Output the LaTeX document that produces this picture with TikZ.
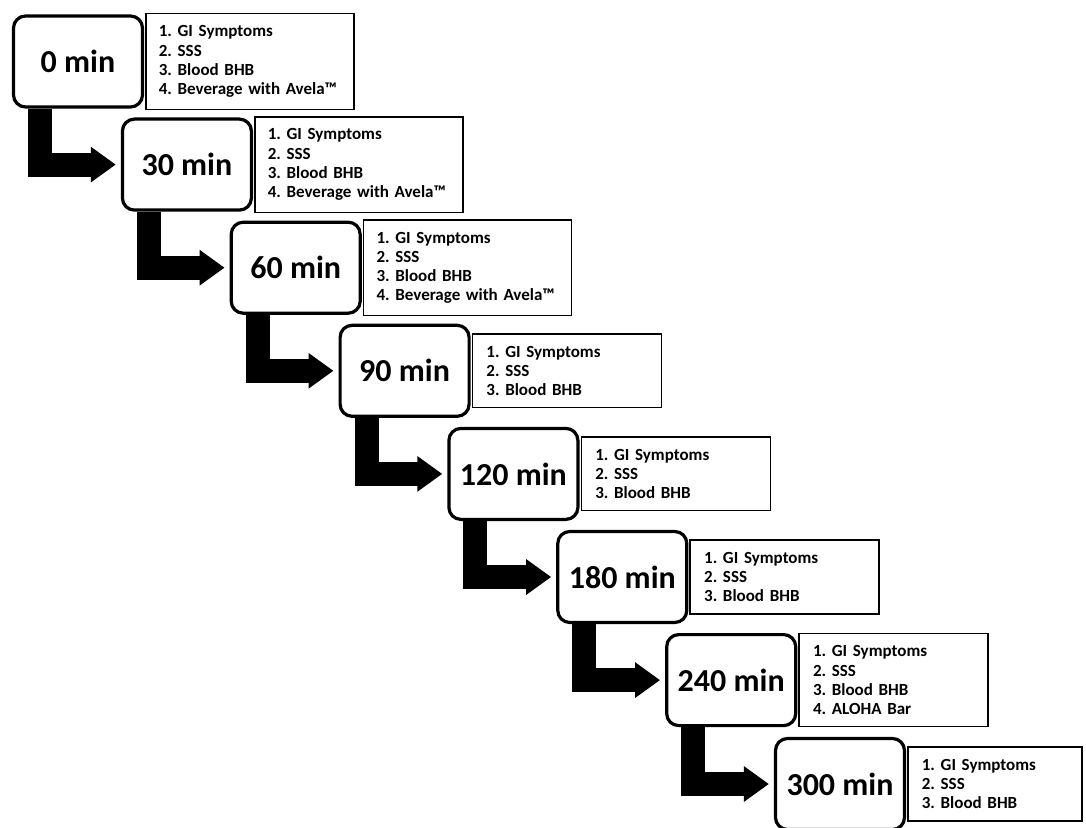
\documentclass[tikz,border=0pt]{standalone}
\usepackage{fontspec}
\setmainfont{Carlito}
\usepackage{tikz}
\usetikzlibrary{positioning,arrows.meta}

\tikzset{
  timebox/.style={draw,line width=1.6pt,rounded corners=6pt,minimum width=64.5pt,
    minimum height=45.5pt,font=\fontsize{16}{19}\selectfont\bfseries,inner sep=0pt},
  infobox/.style={draw,line width=0.75pt,align=left,inner xsep=7pt,inner ysep=6pt,
    font=\fontsize{8.5}{9.6}\selectfont\bfseries\frenchspacing},
  wide/.style={text width=91pt,inner xsep=6.5pt},
  narrow/.style={text width=80.5pt},
  flow/.style={line width=12pt,-{Triangle[length=12.5pt,width=17pt]},shorten >=2.5pt}
}
\newcommand{\avela}{\mbox{4. Beverage with Avela™}}

\begin{document}
\begin{tikzpicture}[x=0.5pt,y=-0.5pt]
\useasboundingbox (0,0) rectangle (1086,828);
\node[timebox] (t0) at (78,61.5) {0 min};
\node[timebox] (t30) at (186.9,164.6) {30 min};
\node[timebox] (t60) at (295.7,267.7) {60 min};
\node[timebox] (t90) at (404.6,370.8) {90 min};
\node[timebox] (t120) at (513.4,473.9) {120 min};
\node[timebox] (t180) at (622.3,577) {180 min};
\node[timebox] (t240) at (731.2,680.1) {240 min};
\node[timebox] (t300) at (840,784) {300 min};
% measurements next to each time point
\node[infobox,wide,right=0.5pt of t0] (i0) {1. GI Symptoms\\2. SSS\\3. Blood BHB\\\avela};
\node[infobox,wide,right=0.5pt of t30] (i30) {1. GI Symptoms\\2. SSS\\3. Blood BHB\\\avela};
\node[infobox,wide,right=0.5pt of t60] (i60) {1. GI Symptoms\\2. SSS\\3. Blood BHB\\\avela};
\node[infobox,narrow,right=0.5pt of t90] (i90) {1. GI Symptoms\\2. SSS\\3. Blood BHB};
\node[infobox,narrow,right=0.5pt of t120] (i120) {1. GI Symptoms\\2. SSS\\3. Blood BHB};
\node[infobox,narrow,right=0.5pt of t180] (i180) {1. GI Symptoms\\2. SSS\\3. Blood BHB};
\node[infobox,narrow,right=0.5pt of t240] (i240) {1. GI Symptoms\\2. SSS\\3. Blood BHB\\4. ALOHA Bar};
\node[infobox,text width=73pt,right=0.5pt of t300] (i300) {1. GI Symptoms\\2. SSS\\3. Blood BHB};
% step arrows
\draw[flow] ([xshift=14pt]t0.south west) |- (t30.west);
\draw[flow] ([xshift=14pt]t30.south west) |- (t60.west);
\draw[flow] ([xshift=14pt]t60.south west) |- (t90.west);
\draw[flow] ([xshift=14pt]t90.south west) |- (t120.west);
\draw[flow] ([xshift=14pt]t120.south west) |- (t180.west);
\draw[flow] ([xshift=14pt]t180.south west) |- (t240.west);
\draw[flow] ([xshift=14pt]t240.south west) |- (t300.west);
\end{tikzpicture}
\end{document}
